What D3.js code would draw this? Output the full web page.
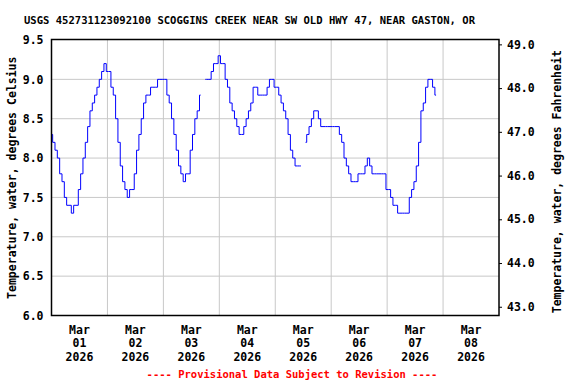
<!DOCTYPE html>
<html>
<head>
<meta charset="utf-8">
<script src="https://cdn.jsdelivr.net/npm/d3@7"></script>
<style>
  html, body { margin: 0; padding: 0; background: #fff; }
  svg { display: block; }
  text { font-family: "DejaVu Sans Mono", monospace; font-weight: bold; }
</style>
</head>
<body>
<svg id="chart" width="576" height="384"></svg>
<script>
// ---- data ----
const title = "USGS 452731123092100 SCOGGINS CREEK NEAR SW OLD HWY 47, NEAR GASTON, OR";
const footer = "---- Provisional Data Subject to Revision ----";
const leftLabel = "Temperature, water, degrees Celsius";
const rightLabel = "Temperature, water, degrees Fahrenheit";
const seriesStart = [2026, 2, 1, 0]; // Mar 01 2026 00:00, hourly readings
const stepHours = 1;
const tempC = [
  8.3,8.2,8.1,8.0,7.8,7.7,7.5,7.4,7.4,7.3,7.4,7.4,7.6,7.8,8.0,8.2,8.4,8.6,8.7,8.8,8.9,9.0,9.1,9.2,
  9.1,9.1,8.9,8.8,8.5,8.2,7.9,7.7,7.6,7.5,7.6,7.6,7.8,8.1,8.3,8.5,8.7,8.8,8.8,8.9,8.9,8.9,9.0,9.0,
  9.0,9.0,8.8,8.7,8.5,8.3,8.1,7.9,7.8,7.7,7.8,7.8,8.1,8.3,8.5,8.6,8.8,null,9.0,9.0,9.0,9.1,9.2,9.2,
  9.3,9.2,9.2,9.0,8.9,8.7,8.6,8.5,8.4,8.3,8.3,8.4,8.5,8.6,8.7,8.9,8.9,8.8,8.8,8.8,8.8,8.9,9.0,9.0,
  8.9,8.9,8.8,8.7,8.6,8.5,8.3,8.1,8.0,7.9,7.9,7.9,null,8.2,8.3,8.4,8.5,8.6,8.6,8.5,8.4,8.4,8.4,8.4,
  8.4,8.4,8.4,8.4,8.3,8.2,8.0,7.9,7.8,7.7,7.7,7.7,7.8,7.8,7.8,7.9,8.0,7.9,7.8,7.8,7.8,7.8,7.8,7.8,
  7.6,7.6,7.5,7.4,7.4,7.3,7.3,7.3,7.3,7.3,7.5,7.6,7.7,7.9,8.2,8.6,8.7,8.9,9.0,9.0,8.9,8.8
];
const xDomainDays = [[2026, 2, 1], [2026, 2, 9]];
const dayLabels = ["01","02","03","04","05","06","07","08"];
const celsiusTicks = [6.0, 6.5, 7.0, 7.5, 8.0, 8.5, 9.0, 9.5];
const fahrenheitTicks = [43, 44, 45, 46, 47, 48, 49];
const yDomainC = [6.0, 9.5];

// ---- layout ----
const L = 51.5, R = 499, T = 40, B = 315.5;
const svg = d3.select("#chart");

const x = d3.scaleTime()
  .domain(xDomainDays.map(d => new Date(d[0], d[1], d[2])))
  .range([L, R]);
const y = d3.scaleLinear().domain(yDomainC).range([B, T]);
const yF = d3.scaleLinear().domain(yDomainC.map(c => c * 9 / 5 + 32)).range([B, T]);

const t0 = new Date(...seriesStart);
const data = tempC.map((v, i) => ({ t: d3.timeHour.offset(t0, i * stepHours), v }));

// gridlines
const dayBounds = d3.timeDay.range(new Date(2026, 2, 2), new Date(2026, 2, 9));
svg.append("g").selectAll("line").data(dayBounds).join("line")
  .attr("x1", d => x(d)).attr("x2", d => x(d))
  .attr("y1", T).attr("y2", B)
  .attr("stroke", "#c8c8c8").attr("stroke-width", 1);
svg.append("g").selectAll("line").data(celsiusTicks.slice(1, -1)).join("line")
  .attr("x1", L).attr("x2", R)
  .attr("y1", d => y(d)).attr("y2", d => y(d))
  .attr("stroke", "#c8c8c8").attr("stroke-width", 1);

// data line
const line = d3.line()
  .defined(d => d.v !== null)
  .x(d => x(d.t)).y(d => y(d.v))
  .curve(d3.curveStep);
svg.append("path").datum(data)
  .attr("d", line)
  .attr("fill", "none").attr("stroke", "#0000ff").attr("stroke-width", 1);

// frame
svg.append("rect").attr("x", L).attr("y", T - 0.5).attr("width", R - L).attr("height", B - T + 0.5)
  .attr("fill", "none").attr("stroke", "#000").attr("stroke-width", 1.5);

// left axis
const leftAxis = d3.axisLeft(y).tickValues(celsiusTicks).tickFormat(d3.format(".1f")).tickSize(0).tickPadding(8);
const gl = svg.append("g").attr("transform", `translate(${L},0)`).call(leftAxis);
gl.select(".domain").remove();
gl.selectAll("text").attr("font-size", "11.5px").attr("fill", "#000")
  .attr("font-family", "DejaVu Sans Mono").attr("font-weight", "bold");

// right axis
const rightAxis = d3.axisRight(yF).tickValues(fahrenheitTicks).tickFormat(d3.format(".1f")).tickSize(3).tickPadding(5);
const gr = svg.append("g").attr("transform", `translate(${R},0)`).call(rightAxis);
gr.select(".domain").remove();
gr.selectAll("line").attr("stroke", "#000");
gr.selectAll("text").attr("font-size", "11.5px").attr("fill", "#000")
  .attr("font-family", "DejaVu Sans Mono").attr("font-weight", "bold");

// bottom axis labels at noon of each day
const noons = dayLabels.map((d, i) => d3.timeHour.offset(new Date(2026, 2, 1 + i), 12));
const gx = svg.append("g");
const lab = gx.selectAll("text").data(noons).join("text")
  .attr("text-anchor", "middle").attr("font-size", "11.5px").attr("fill", "#000");
const fmtM = d3.timeFormat("%b"), fmtD = d3.timeFormat("%d"), fmtY = d3.timeFormat("%Y");
lab.append("tspan").attr("x", d => x(d)).attr("y", 333.5).text(d => fmtM(d));
lab.append("tspan").attr("x", d => x(d)).attr("y", 347).text(d => fmtD(d));
lab.append("tspan").attr("x", d => x(d)).attr("y", 360.5).text(d => fmtY(d));

// axis titles
svg.append("text").attr("transform", `translate(16,${(T + B) / 2}) rotate(-90)`)
  .attr("text-anchor", "middle").attr("font-size", "11.5px").attr("fill", "#000").text(leftLabel);
svg.append("text").attr("transform", `translate(561,${(T + B) / 2 + 4}) rotate(-90)`)
  .attr("text-anchor", "middle").attr("font-size", "11.5px").attr("fill", "#000").text(rightLabel);

// title & footer
svg.append("text").attr("x", 24).attr("y", 24).attr("font-size", "10.5px").attr("fill", "#000")
  .attr("textLength", 451).attr("lengthAdjust", "spacingAndGlyphs").text(title);
svg.append("text").attr("x", 292).attr("y", 378).attr("text-anchor", "middle")
  .attr("font-size", "10.5px").attr("fill", "#ff0000").text(footer);
</script>
</body>
</html>
